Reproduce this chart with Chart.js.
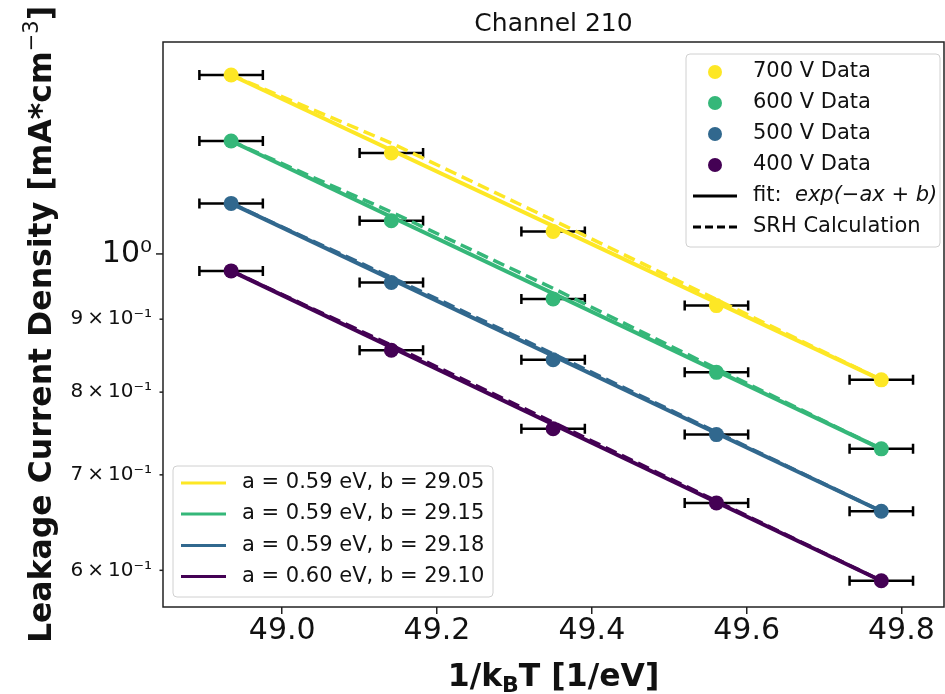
<!DOCTYPE html>
<html>
<head>
<meta charset="utf-8">
<script src="https://cdn.jsdelivr.net/npm/chart.js@4.4.0/dist/chart.umd.min.js"></script>
<style>
  body { margin: 0; background: #fff; }
  #wrap { width: 945px; height: 694px; }
</style>
</head>
<body>
<div id="wrap"><canvas id="myChart" width="945" height="694"></canvas></div>
<script>

// 1/kT positions of the five temperature points
var xVals = [48.934, 49.141, 49.350, 49.561, 49.774];
var xErr = 0.041;

// measured leakage current density
var data700 = [1.335, 1.177, 1.037, 0.920, 0.816];
var data600 = [1.200, 1.055, 0.930, 0.826, 0.730];
var data500 = [1.085, 0.955, 0.843, 0.747, 0.660];
var data400 = [0.973, 0.856, 0.754, 0.669, 0.590];

// fit lines (end points)
var fitX = [48.934, 49.774];
var fit700 = [1.335, 0.816];
var fit600 = [1.200, 0.730];
var fit500 = [1.085, 0.660];
var fit400 = [0.973, 0.590];

// SRH calculation
var srh700 = [1.335, 1.196, 1.056, 0.929, 0.816];
var srh600 = [1.200, 1.070, 0.946, 0.831, 0.730];
var srh500 = [1.085, 0.963, 0.851, 0.750, 0.660];
var srh400 = [0.973, 0.863, 0.762, 0.671, 0.590];

var seriesNames = ['700 V Data', '600 V Data', '500 V Data', '400 V Data'];
var fitLabels = ['a = 0.59 eV, b = 29.05', 'a = 0.59 eV, b = 29.15', 'a = 0.59 eV, b = 29.18', 'a = 0.60 eV, b = 29.10'];
var colors = ['#fde725', '#35b779', '#31688e', '#440154'];

var xTicks = [49.0, 49.2, 49.4, 49.6, 49.8];
var yTicks = [0.6, 0.7, 0.8, 0.9, 1.0];
var yTickLabels = ['6\u2009×\u200910⁻¹', '7\u2009×\u200910⁻¹', '8\u2009×\u200910⁻¹', '9\u2009×\u200910⁻¹', '10⁰'];

var allData = [data700, data600, data500, data400];
var allFit = [fit700, fit600, fit500, fit400];
var allSrh = [srh700, srh600, srh500, srh400];

function pts(xs, ys) {
  return xs.map(function(x, i) { return { x: x, y: ys[i] }; });
}

var datasets = [];
for (var s = 0; s < 4; s++) {
  datasets.push({
    label: seriesNames[s],
    data: pts(xVals, allData[s]),
    backgroundColor: colors[s],
    borderWidth: 0,
    pointRadius: 7.5,
    showLine: false,
    order: 0
  });
  datasets.push({
    label: fitLabels[s],
    data: pts(fitX, allFit[s]),
    borderColor: colors[s],
    borderWidth: 4,
    pointRadius: 0,
    showLine: true,
    order: 1
  });
  datasets.push({
    label: 'SRH ' + seriesNames[s],
    data: pts(xVals, allSrh[s]),
    borderColor: colors[s],
    borderWidth: 3.5,
    borderDash: [12, 6],
    pointRadius: 0,
    showLine: true,
    order: 2
  });
}

var FONT = '"DejaVu Sans", sans-serif';

function legendBox(ctx, x, y, w, h) {
  ctx.save();
  ctx.fillStyle = 'rgba(255,255,255,0.8)';
  ctx.strokeStyle = '#d0d0d0';
  ctx.lineWidth = 1;
  ctx.beginPath();
  ctx.roundRect(x, y, w, h, 4);
  ctx.fill();
  ctx.stroke();
  ctx.restore();
}

var deco = {
  id: 'deco',
  beforeDatasetsDraw: function(chart) {
    var ctx = chart.ctx, xs = chart.scales.x, ys = chart.scales.y;
    ctx.save();
    ctx.strokeStyle = '#000';
    ctx.lineWidth = 2.5;
    allData.forEach(function(arr) {
      arr.forEach(function(v, i) {
        var x0 = xs.getPixelForValue(xVals[i] - xErr);
        var x1 = xs.getPixelForValue(xVals[i] + xErr);
        var py = ys.getPixelForValue(v);
        ctx.beginPath();
        ctx.moveTo(x0, py); ctx.lineTo(x1, py);
        ctx.moveTo(x0, py - 5); ctx.lineTo(x0, py + 5);
        ctx.moveTo(x1, py - 5); ctx.lineTo(x1, py + 5);
        ctx.stroke();
      });
    });
    ctx.restore();
  },
  afterDraw: function(chart) {
    var ctx = chart.ctx, a = chart.chartArea, ys = chart.scales.y;
    ctx.save();
    // frame
    ctx.strokeStyle = '#222';
    ctx.lineWidth = 1.5;
    ctx.strokeRect(a.left, a.top, a.right - a.left, a.bottom - a.top);
    // y ticks (major at 10^0, minor elsewhere)
    yTicks.forEach(function(v) {
      var py = ys.getPixelForValue(v);
      var len = v === 1.0 ? 7 : 3.5;
      ctx.beginPath();
      ctx.moveTo(a.left - len, py); ctx.lineTo(a.left, py);
      ctx.stroke();
    });

    // title
    ctx.fillStyle = '#111';
    ctx.font = '25px ' + FONT;
    ctx.textAlign = 'center';
    ctx.textBaseline = 'alphabetic';
    ctx.fillText('Channel 210', (a.left + a.right) / 2, 31);

    // x label with subscript
    var cx = (a.left + a.right) / 2, by = 686;
    var p1 = '1/k', p2 = 'B', p3 = 'T [1/eV]';
    ctx.font = 'bold 31.5px ' + FONT;
    var w1 = ctx.measureText(p1).width, w3 = ctx.measureText(p3).width;
    ctx.font = 'bold 22px ' + FONT;
    var w2 = ctx.measureText(p2).width;
    var sx = cx - (w1 + w2 + w3) / 2;
    ctx.textAlign = 'left';
    ctx.font = 'bold 31.5px ' + FONT;
    ctx.fillText(p1, sx, by);
    ctx.font = 'bold 22px ' + FONT;
    ctx.fillText(p2, sx + w1, by + 6);
    ctx.font = 'bold 31.5px ' + FONT;
    ctx.fillText(p3, sx + w1 + w2, by);

    // y label with superscript
    var q1 = 'Leakage Current Density [mA*cm', q2 = '−3', q3 = ']';
    ctx.font = 'bold 31.5px ' + FONT;
    var v1 = ctx.measureText(q1).width, v3 = ctx.measureText(q3).width;
    ctx.font = '21px ' + FONT;
    var v2 = ctx.measureText(q2).width;
    ctx.save();
    ctx.translate(51, (a.top + a.bottom) / 2);
    ctx.rotate(-Math.PI / 2);
    var ty = -(v1 + v2 + v3) / 2;
    ctx.font = 'bold 31.5px ' + FONT;
    ctx.fillText(q1, ty, 0);
    ctx.font = '21px ' + FONT;
    ctx.fillText(q2, ty + v1, -13);
    ctx.font = 'bold 31.5px ' + FONT;
    ctx.fillText(q3, ty + v1 + v2, 0);
    ctx.restore();

    // legend 1 (top right)
    legendBox(ctx, 686, 54, 254, 193);
    ctx.textBaseline = 'middle';
    ctx.font = '21px ' + FONT;
    var rows1 = [72, 103, 134, 165];
    for (var i = 0; i < 4; i++) {
      ctx.fillStyle = colors[i];
      ctx.beginPath();
      ctx.arc(715, rows1[i], 7, 0, Math.PI * 2);
      ctx.fill();
      ctx.fillStyle = '#111';
      ctx.fillText(seriesNames[i], 753, rows1[i]);
    }
    ctx.strokeStyle = '#000';
    ctx.lineWidth = 3;
    ctx.beginPath(); ctx.moveTo(693, 196); ctx.lineTo(737, 196); ctx.stroke();
    ctx.setLineDash([8, 4]);
    ctx.beginPath(); ctx.moveTo(693, 227); ctx.lineTo(737, 227); ctx.stroke();
    ctx.setLineDash([]);
    ctx.fillStyle = '#111';
    ctx.font = '21px ' + FONT;
    ctx.fillText('fit:', 753, 196);
    ctx.font = 'italic 21px ' + FONT;
    ctx.fillText('exp(−ax + b)', 795, 196);
    ctx.font = '21px ' + FONT;
    ctx.fillText('SRH Calculation', 753, 227);

    // legend 2 (bottom left)
    legendBox(ctx, 173, 466, 320, 131);
    var rows2 = [483, 514, 545.5, 576.5];
    for (var j = 0; j < 4; j++) {
      ctx.strokeStyle = colors[j];
      ctx.lineWidth = 3;
      ctx.beginPath(); ctx.moveTo(181, rows2[j]); ctx.lineTo(226, rows2[j]); ctx.stroke();
      ctx.fillStyle = '#111';
      ctx.fillText(fitLabels[j], 242, rows2[j]);
    }
    ctx.restore();
  }
};

new Chart(document.getElementById('myChart'), {
  type: 'scatter',
  data: { datasets: datasets },
  options: {
    responsive: false,
    animation: false,
    layout: { autoPadding: false, padding: { top: 42, right: 1, left: 0, bottom: 0 } },
    plugins: { legend: { display: false }, tooltip: { enabled: false }, title: { display: false } },
    scales: {
      x: {
        type: 'linear',
        min: 48.846,
        max: 49.855,
        afterBuildTicks: function(s) { s.ticks = xTicks.map(function(v) { return { value: v }; }); },
        afterFit: function(s) { s.height = 87; },
        grid: { drawOnChartArea: false, color: '#222', lineWidth: 1.5, tickLength: 7 },
        border: { display: false },
        ticks: {
          color: '#111',
          padding: 2,
          maxRotation: 0,
          font: { family: FONT, size: 30, lineHeight: 1 },
          callback: function(v) { return v.toFixed(1); }
        }
      },
      y: {
        type: 'logarithmic',
        min: 0.5655,
        max: 1.408,
        afterBuildTicks: function(s) { s.ticks = yTicks.map(function(v) { return { value: v }; }); },
        afterFit: function(s) { s.width = 163; },
        grid: { drawOnChartArea: false, color: 'rgba(0,0,0,0)', tickLength: 7 },
        border: { display: false },
        ticks: {
          color: '#111',
          padding: 4,
          font: function(c) {
            return (c.tick && c.tick.value === 1.0) ? { family: FONT, size: 30 } : { family: FONT, size: 20 };
          },
          callback: function(v, i) { return yTickLabels[i]; }
        }
      }
    }
  },
  plugins: [deco]
});
</script>
</body>
</html>
